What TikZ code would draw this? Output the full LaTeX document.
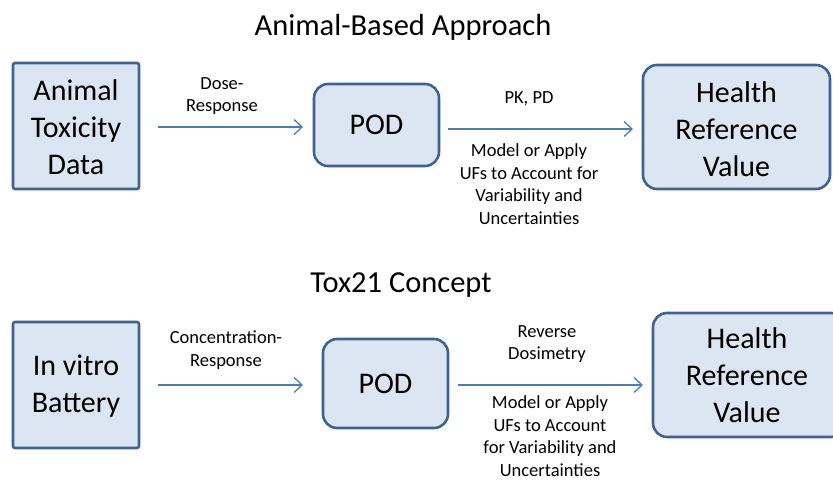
\documentclass[tikz,border=0pt]{standalone}
\usepackage{fontspec}
\setmainfont{Carlito}
\usetikzlibrary{arrows.meta}
\definecolor{boxfill}{HTML}{DCE6F2}
\definecolor{boxline}{HTML}{3F6391}
\definecolor{arrowc}{HTML}{4A7EBB}
\tikzset{
  rbox/.style={draw=boxline, fill=boxfill, line width=2.6pt, rounded corners=14pt},
  sqbox/.style={draw=boxline, fill=boxfill, line width=2.6pt, rounded corners=2pt},
  bigtext/.style={font=\fontsize{30}{37}\selectfont, align=center},
  lbl/.style={font=\fontsize{18.5}{22.7}\selectfont, align=center, inner sep=0pt},
  ttl/.style={font=\fontsize{30.5}{36}\selectfont, inner sep=0pt},
  conn/.style={draw=arrowc, line width=1.3pt, -{Straight Barb[length=8pt,width=15pt,line width=1.3pt]}}
}
\begin{document}
\begin{tikzpicture}[x=1pt,y=-1pt]
\useasboundingbox (0,0) rectangle (833,482);
% top row
\node[ttl] (t1) at (403,27) {Animal-Based Approach};
\draw[sqbox] (13,63) rectangle (139,189);
\node[bigtext] (a1) at (76,127) {Animal\\Toxicity\\Data};
\coordinate (a1e) at (158,127);
\draw[rbox] (314,84) rectangle (439,166);
\node[bigtext] (p1) at (376.5,125) {POD};
\draw[rbox] (643,65) rectangle (830,189);
\node[bigtext] (h1) at (736.5,129) {Health\\Reference\\Value};
\coordinate (p1s) at (303,127);
\coordinate (p1e) at (448,129);
\coordinate (h1s) at (633,129);
\draw[conn] (a1e) -- (p1s);
\draw[conn] (p1e) -- (h1s);
\node[lbl] (l1) at (222,96) {Dose-\\Response};
\node[lbl] (l2) at (529,99) {PK, PD};
\node[lbl] (l3) at (529,184) {Model or Apply\\UFs to Account for\\Variability and\\Uncertainties};
% bottom row
\node[ttl] (t2) at (401,285) {Tox21 Concept};
\draw[sqbox] (13,322) rectangle (139,448);
\node[bigtext] (a2) at (76,386) {In vitro\\Battery};
\coordinate (a2e) at (158,385);
\draw[rbox] (323,339) rectangle (448,428);
\node[bigtext] (p2) at (385.5,384) {POD};
\draw[rbox] (653,313) rectangle (845,437);
\node[bigtext] (h2) at (747,375) {Health\\Reference\\Value};
\coordinate (p2s) at (303,385);
\coordinate (p2e) at (458,385);
\coordinate (h2s) at (643,385);
\draw[conn] (a2e) -- (p2s);
\draw[conn] (p2e) -- (h2s);
\node[lbl] (l4) at (226,350) {Concentration-\\Response};
\node[lbl] (l5) at (547,344) {Reverse\\Dosimetry};
\node[lbl] (l6) at (550,436) {Model or Apply\\UFs to Account\\for Variability and\\Uncertainties};
\end{tikzpicture}
\end{document}
